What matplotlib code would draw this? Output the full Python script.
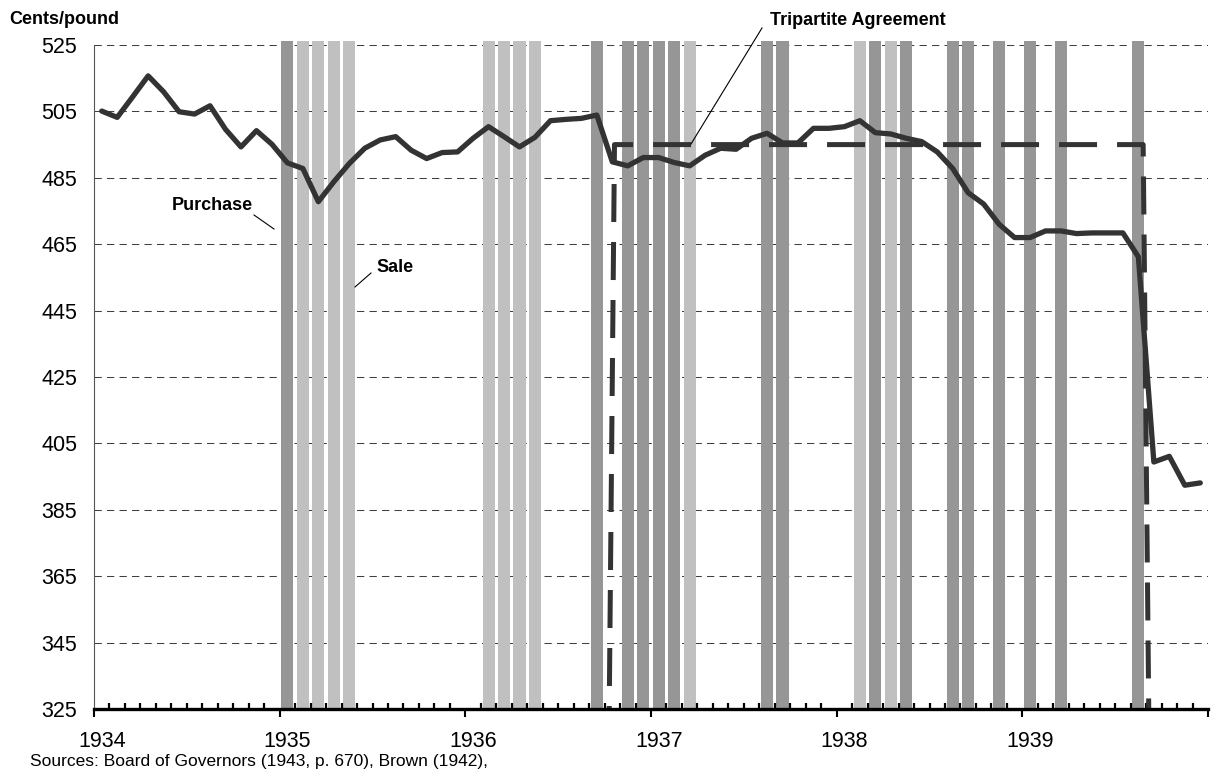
import matplotlib
matplotlib.use("Agg")
import matplotlib.pyplot as plt
from matplotlib.lines import Line2D
import numpy as np

plt.rcParams['font.family'] = ['Liberation Sans', 'DejaVu Sans']

# monthly price, Jan 1934 .. Dec 1939 (cents/pound)
price = [505.1, 503.2, 509.4, 515.7, 510.9, 504.9, 504.2, 506.7, 499.6, 494.3, 499.2, 495.1,
         489.5, 487.8, 477.8, 483.8, 489.3, 493.9, 496.4, 497.4, 493.3, 490.8, 492.6, 492.8,
         496.9, 500.4, 497.4, 494.3, 497.2, 502.2, 502.6, 502.9, 503.9, 489.8, 488.6, 491.1,
         491.1, 489.6, 488.6, 491.8, 493.9, 493.6, 496.9, 498.4, 495.5, 495.5, 499.9, 499.9,
         500.4, 502.2, 498.6, 498.2, 496.9, 495.9, 492.8, 487.8, 480.5, 477.1, 471.0, 467.0,
         467.0, 469.0, 469.0, 468.2, 468.4, 468.4, 468.4, 461.2, 399.4, 401.1, 392.4, 393.1]

# months (0 = Jan 1934) with Treasury purchases / sales
purchase_months = [12, 32, 34, 35, 36, 37, 43, 44, 50, 52, 55, 56, 58, 60, 62, 67]
sale_months = [13, 14, 15, 16, 25, 26, 27, 28, 38, 49, 51]
bar_top = 526.2

# Tripartite Agreement band (x in months since Jan 1934)
tri_x = [33.30, 33.64, 67.81, 68.17]
tri_y = [325, 495, 495, 325]

years = ['1934', '1935', '1936', '1937', '1938', '1939']
yticks = list(range(325, 526, 20))

W, H = 1217, 773
fig = plt.figure(figsize=(W / 100, H / 100), dpi=100)
ax = fig.add_axes([94 / W, 1 - 709 / H, (1208 - 94) / W, (709 - 45) / H])


def px(x, y):
    return x / W, 1 - y / H


ink = '#333333'
dark = '#969696'
light = '#c0c0c0'

for v in yticks[1:]:
    ax.axhline(v, color='#404040', lw=0.75, ls=(0, (7, 5)), zorder=0.5)

ax.bar(np.array(purchase_months) + 0.5, bar_top - 325, bottom=325, width=0.78,
       color=dark, zorder=1.2, clip_on=False)
ax.bar(np.array(sale_months) + 0.5, bar_top - 325, bottom=325, width=0.78,
       color=light, zorder=1.2, clip_on=False)

ax.plot(tri_x, tri_y, color=ink, lw=3.6, ls=(7.0, (7.6, 4.0)), zorder=3,
        solid_joinstyle='miter', clip_on=False)
ax.plot(np.arange(len(price)) + 0.5, price, color=ink, lw=3.8, zorder=4,
        solid_joinstyle='round', solid_capstyle='round')

ax.set_xlim(0, 72)
ax.set_ylim(325, 525)
ax.set_yticks(yticks)
ax.tick_params(axis='y', length=0, pad=12, labelsize=15.5)

ax.set_xticks(range(0, 73, 12))
ax.set_xticklabels([])
ax.set_xticks([m for m in range(73) if m % 12 != 0], minor=True)
ax.tick_params(axis='x', which='major', direction='out', length=5.5, width=1.5, color='black')
ax.tick_params(axis='x', which='minor', direction='in', length=4.5, width=1.6, color='black')

for k, lab in enumerate(years):
    ax.annotate(lab, xy=(12 * k + 0.5, 0), xycoords=('data', 'axes fraction'),
                xytext=(0, -27.4), textcoords='offset points',
                ha='center', va='baseline', fontsize=15.5)

for s in ['top', 'right']:
    ax.spines[s].set_visible(False)
ax.spines['left'].set_color('#555555')
ax.spines['left'].set_linewidth(0.8)
ax.spines['bottom'].set_linewidth(2.4)
ax.spines['bottom'].set_zorder(5)

fig.text(*px(9, 24), 'Cents/pound', fontsize=13, fontweight='bold', va='baseline')
fig.text(*px(172, 210), 'Purchase', fontsize=13, fontweight='bold', va='baseline')
fig.text(*px(376, 271.7), 'Sale', fontsize=13, fontweight='bold', va='baseline')
fig.text(*px(770, 25), 'Tripartite Agreement', fontsize=13, fontweight='bold', va='baseline')
fig.text(*px(30, 766), 'Sources: Board of Governors (1943, p. 670), Brown (1942),',
         fontsize=12.5, va='baseline')

for (x0, y0), (x1, y1) in [((254, 215), (274, 229)),
                           ((371, 273), (355, 287)),
                           ((762, 28), (691, 144))]:
    a, b = px(x0, y0)
    c, d = px(x1, y1)
    fig.add_artist(Line2D([a, c], [b, d], color='black', lw=0.8))

fig.savefig('out.png', dpi=100)
